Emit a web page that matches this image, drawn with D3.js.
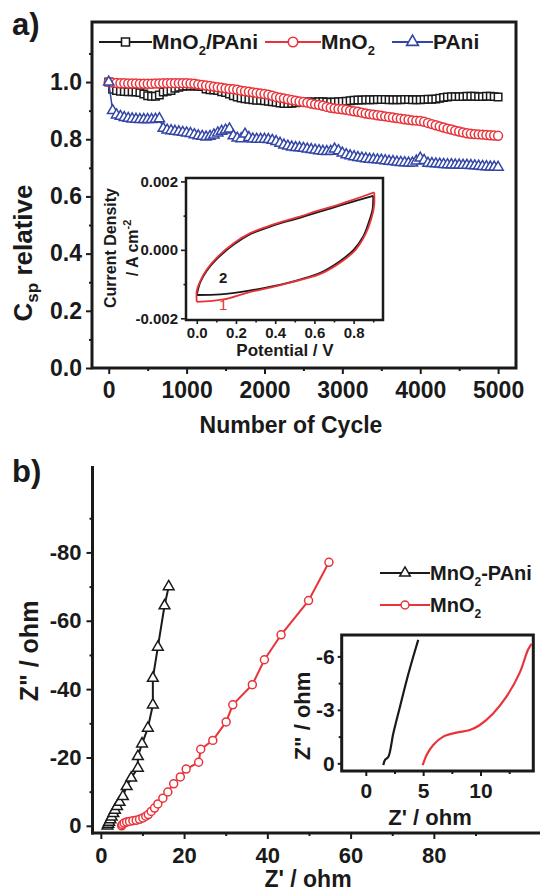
<!DOCTYPE html>
<html>
<head>
<meta charset="utf-8">
<script src="https://cdn.jsdelivr.net/npm/d3@7"></script>
<style>
  body { margin: 0; background: #fff; }
  svg { display: block; font-family: "Liberation Sans", Arial, sans-serif; font-weight: bold; }
</style>
</head>
<body>
<svg id="chart" width="547" height="893"></svg>
<script>
// ---- panel a : relative capacitance vs cycle ----
const cycles = d3.range(0, 5001, 50);
const capMnO2PAni = [
  1.000, 0.975, 0.970, 0.968, 0.967, 0.966, 0.966, 0.965, 0.963, 0.958,
  0.952, 0.950, 0.950, 0.955, 0.965, 0.968, 0.970, 0.978, 0.982, 0.985,
  0.986, 0.986, 0.986, 0.985, 0.984, 0.976, 0.973, 0.972, 0.970, 0.966,
  0.963, 0.958, 0.952, 0.948, 0.944, 0.942, 0.940, 0.938, 0.936, 0.936,
  0.935, 0.933, 0.931, 0.929, 0.927, 0.925, 0.925, 0.926, 0.928, 0.929,
  0.929, 0.930, 0.930, 0.930, 0.931, 0.931, 0.930, 0.929, 0.930, 0.931,
  0.932, 0.933, 0.935, 0.936, 0.937, 0.937, 0.938, 0.938, 0.938, 0.939,
  0.939, 0.939, 0.938, 0.938, 0.938, 0.938, 0.939, 0.939, 0.938, 0.938,
  0.938, 0.939, 0.940, 0.940, 0.941, 0.943, 0.946, 0.948, 0.949, 0.949,
  0.949, 0.949, 0.950, 0.950, 0.950, 0.949, 0.949, 0.950, 0.950, 0.949,
  0.948
];
const capMnO2 = [
  1.000, 0.998, 0.997, 0.996, 0.996, 0.995, 0.995, 0.995, 0.994, 0.994,
  0.994, 0.994, 0.995, 0.995, 0.996, 0.996, 0.996, 0.996, 0.996, 0.996,
  0.996, 0.995, 0.994, 0.992, 0.990, 0.988, 0.986, 0.984, 0.982, 0.980,
  0.978, 0.976, 0.975, 0.973, 0.970, 0.968, 0.966, 0.964, 0.962, 0.960,
  0.958, 0.956, 0.952, 0.948, 0.945, 0.943, 0.940, 0.937, 0.935, 0.932,
  0.930, 0.928, 0.925, 0.922, 0.920, 0.917, 0.913, 0.910, 0.908, 0.906,
  0.905, 0.903, 0.900, 0.898, 0.896, 0.893, 0.890, 0.888, 0.886, 0.884,
  0.882, 0.880, 0.878, 0.876, 0.874, 0.872, 0.870, 0.868, 0.866, 0.865,
  0.864, 0.861, 0.857, 0.853, 0.849, 0.845, 0.841, 0.837, 0.834, 0.830,
  0.827, 0.824, 0.821, 0.819, 0.818, 0.817, 0.816, 0.815, 0.814, 0.813,
  0.812
];
const capPAni = [
  1.000, 0.900, 0.885, 0.880, 0.876, 0.873, 0.871, 0.870, 0.869, 0.869,
  0.869, 0.869, 0.870, 0.872, 0.838, 0.832, 0.830, 0.828, 0.826, 0.824,
  0.822, 0.820, 0.816, 0.812, 0.810, 0.808, 0.810, 0.815, 0.822, 0.828,
  0.832, 0.836, 0.812, 0.804, 0.802, 0.818, 0.806, 0.801, 0.800, 0.800,
  0.800, 0.799, 0.796, 0.792, 0.786, 0.780, 0.776, 0.773, 0.771, 0.770,
  0.768, 0.766, 0.764, 0.762, 0.760, 0.758, 0.757, 0.758, 0.766, 0.760,
  0.752, 0.746, 0.742, 0.739, 0.736, 0.734, 0.732, 0.730, 0.729, 0.728,
  0.727, 0.725, 0.723, 0.722, 0.720, 0.719, 0.718, 0.717, 0.717, 0.724,
  0.734, 0.726, 0.716, 0.715, 0.714, 0.713, 0.712, 0.711, 0.711, 0.710,
  0.710, 0.709, 0.709, 0.708, 0.707, 0.706, 0.705, 0.704, 0.703, 0.703,
  0.702
];
const cycleTicks = [0, 1000, 2000, 3000, 4000, 5000];
const cycleMinor = [500, 1500, 2500, 3500, 4500];
const capTicks = [0, 0.2, 0.4, 0.6, 0.8, 1.0];
const capMinor = [0.1, 0.3, 0.5, 0.7, 0.9, 1.1];

// inset a : CV loops [V, A cm-2]
const cv2Fwd = [[0,-0.00132],[0.017,-0.00096],[0.05,-0.00062],[0.10,-0.00028],[0.19,0.00016],[0.27,0.00045],[0.36,0.00065],[0.44,0.0008],[0.53,0.00094],[0.61,0.00109],[0.70,0.00124],[0.78,0.00138],[0.9,0.00158]];
const cv2Rev = [[0.9,0.00158],[0.897,0.0012],[0.88,0.00085],[0.85,0.0004],[0.80,0.0],[0.73,-0.00033],[0.63,-0.00067],[0.53,-0.00086],[0.39,-0.00106],[0.26,-0.0012],[0.12,-0.0013],[0,-0.00132]];
const cv1Fwd = [[0,-0.00152],[0,-0.0012],[0.017,-0.00092],[0.05,-0.00058],[0.10,-0.00024],[0.19,0.0002],[0.27,0.00048],[0.36,0.00068],[0.44,0.00083],[0.53,0.00098],[0.61,0.00113],[0.70,0.00128],[0.78,0.00143],[0.905,0.00168]];
const cv1Rev = [[0.905,0.00168],[0.905,0.0013],[0.89,0.0009],[0.86,0.00045],[0.81,0.0],[0.74,-0.00034],[0.64,-0.00068],[0.53,-0.00088],[0.39,-0.00108],[0.26,-0.00125],[0.135,-0.00145],[0,-0.00152]];
const potTicks = [0, 0.2, 0.4, 0.6, 0.8];
const potMinor = [0.1, 0.3, 0.5, 0.7, 0.9];
const curTicks = [-0.002, 0, 0.002];
const curMinor = [-0.001, 0.001];

// ---- panel b : Nyquist plots [Z', Z''] ----
const eisMnO2PAni = [[1.6,0.0],[1.8,-0.5],[2.0,-1.1],[2.3,-1.8],[2.6,-2.6],[3.0,-3.6],[3.4,-4.6],[3.9,-5.7],[4.5,-6.9],[5.3,-8.6],[6.2,-11.5],[7.3,-14.0],[8.9,-16.9],[8.9,-20.3],[9.9,-24.0],[11.3,-28.6],[12.5,-35.4],[12.5,-43.2],[13.7,-52.3],[15.3,-64.4],[16.3,-70.0]];
const eisMnO2 = [[5.0,0.0],[5.2,-0.4],[5.6,-0.8],[6.2,-1.1],[6.9,-1.3],[7.7,-1.5],[8.5,-1.6],[9.3,-1.9],[10.1,-2.3],[10.8,-2.8],[11.4,-3.3],[12.1,-4.2],[12.9,-5.2],[13.7,-6.4],[14.9,-8.1],[16.1,-9.9],[17.5,-12.3],[19.1,-14.3],[20.5,-16.6],[23.5,-18.6],[24.0,-22.4],[26.9,-25.0],[30.1,-30.4],[31.7,-35.4],[36.4,-41.3],[39.3,-48.6],[43.3,-55.9],[49.9,-65.9],[54.8,-77.1]];
const zreTicks = [0, 20, 40, 60, 80];
const zreMinor = [10, 30, 50, 70, 90];
const zimTicks = [0, -20, -40, -60, -80];
const zimMinor = [-10, -30, -50, -70, -90];

// inset b
const insetMnO2PAni = [[1.53,0.1],[1.68,-0.19],[1.97,-0.37],[2.4,-1.69],[2.98,-3.18],[3.57,-4.68],[4.14,-5.99],[4.57,-6.93]];
const insetMnO2 = [[4.96,0.1],[5.3,-0.47],[5.88,-1.03],[6.75,-1.5],[7.9,-1.72],[9.07,-1.87],[9.94,-2.15],[11.1,-2.8],[12.26,-3.74],[13.4,-5.06],[14.14,-6.37],[14.45,-6.7]];
const insetZreTicks = [0, 5, 10];
const insetZreMinor = [2.5, 7.5, 12.5];
const insetZimTicks = [0, -3, -6];
const insetZimMinor = [-1.5, -4.5];

const INK = "#1a1a1a", RED = "#e8333a", BLUE = "#3346a6";
const svg = d3.select("#chart");

function fmtAxis(g, fs, sw) {
  g.attr("font-family", null).attr("font-size", null);
  g.select(".domain").remove();
  g.selectAll(".tick line").attr("stroke", INK).attr("stroke-width", sw || 2);
  g.selectAll(".tick text").attr("fill", INK)
    .style("font-size", fs + "px").style("font-weight", "bold");
}

function frame(x, y, fill, sw) {
  svg.append("rect")
    .attr("x", x.range()[0]).attr("y", y.range()[1])
    .attr("width", x.range()[1] - x.range()[0])
    .attr("height", y.range()[0] - y.range()[1])
    .attr("fill", fill).attr("stroke", INK).attr("stroke-width", sw);
}

function markers(g, pts, type, size, color, sw) {
  g.selectAll(null).data(pts).enter().append("path")
    .attr("d", d3.symbol().type(type).size(size))
    .attr("transform", d => `translate(${d[0]},${d[1]})`)
    .attr("fill", "#fff").attr("stroke", color).attr("stroke-width", sw || 1.3);
}

// ================= panel a =================
const xA = d3.scaleLinear().domain([-215, 5230]).range([92, 516]);
const yA = d3.scaleLinear().domain([0, 1.21]).range([368, 22]);

svg.append("g").attr("transform", "translate(0,368)")
  .call(d3.axisBottom(xA).tickValues(cycleTicks).tickSize(6).tickPadding(8).tickFormat(d => String(d)))
  .call(g => fmtAxis(g, 23));
svg.append("g").attr("transform", "translate(0,368)")
  .call(d3.axisBottom(xA).tickValues(cycleMinor).tickSize(3).tickFormat(""))
  .call(g => fmtAxis(g, 23));
svg.append("g").attr("transform", "translate(92,0)")
  .call(d3.axisLeft(yA).tickValues(capTicks).tickSize(6).tickPadding(4).tickFormat(d => d.toFixed(1)))
  .call(g => fmtAxis(g, 23));
svg.append("g").attr("transform", "translate(92,0)")
  .call(d3.axisLeft(yA).tickValues(capMinor).tickSize(3).tickFormat(""))
  .call(g => fmtAxis(g, 23));
frame(xA, yA, "none", 3);

const seriesA = [
  { vals: capMnO2PAni, color: INK, sym: d3.symbolSquare, size: 56 },
  { vals: capMnO2, color: RED, sym: d3.symbolCircle, size: 62 },
  { vals: capPAni, color: BLUE, sym: d3.symbolTriangle, size: 46 }
];
seriesA.forEach(s => {
  const pts = cycles.map((c, i) => [xA(c), yA(s.vals[i])]);
  svg.append("path").attr("d", d3.line()(pts))
    .attr("fill", "none").attr("stroke", s.color).attr("stroke-width", 1.5);
  markers(svg.append("g"), pts, s.sym, s.size, s.color, 1.5);
});

// legend a
const legA = [
  { x0: 99, x1: 152, name: ["MnO", "2", "/PAni"], color: INK, sym: d3.symbolSquare, size: 64 },
  { x0: 265, x1: 321, name: ["MnO", "2", ""], color: RED, sym: d3.symbolCircle, size: 70 },
  { x0: 392, x1: 433, name: ["", "", "PAni"], color: BLUE, sym: d3.symbolTriangle, size: 60 }
];
legA.forEach(l => {
  const g = svg.append("g");
  g.append("line").attr("x1", l.x0).attr("x2", l.x1).attr("y1", 42).attr("y2", 42)
    .attr("stroke", l.color).attr("stroke-width", 2);
  markers(g, [[(l.x0 + l.x1) / 2, 42]], l.sym, l.size, l.color, 1.6);
  const t = g.append("text").attr("x", l.x1).attr("y", 49).attr("fill", INK).style("font-size", "21px");
  t.append("tspan").text(l.name[0]);
  if (l.name[1]) t.append("tspan").attr("dy", 6).style("font-size", "13px").text(l.name[1]);
  t.append("tspan").attr("dy", l.name[1] ? -6 : 0).text(l.name[2]);
});

svg.append("text").attr("x", 12).attr("y", 35).style("font-size", "31px").attr("fill", INK).text("a)");

const yTitleA = svg.append("text").attr("transform", "translate(32,253) rotate(-90)")
  .attr("text-anchor", "middle").attr("fill", INK).style("font-size", "26px");
yTitleA.append("tspan").text("C");
yTitleA.append("tspan").attr("dy", 6).style("font-size", "17px").text("sp");
yTitleA.append("tspan").attr("dy", -6).text(" relative");

svg.append("text").attr("x", 291).attr("y", 433).attr("text-anchor", "middle")
  .attr("fill", INK).style("font-size", "23px").text("Number of Cycle");

// inset a
const xI = d3.scaleLinear().domain([-0.055, 0.95]).range([186, 383]);
const yI = d3.scaleLinear().domain([-0.00205, 0.0021]).range([320, 178]);
frame(xI, yI, "#fff", 2.5);
svg.append("g").attr("transform", "translate(0,320)")
  .call(d3.axisBottom(xI).tickValues(potTicks).tickSize(4).tickPadding(3).tickFormat(d => d.toFixed(1)))
  .call(g => fmtAxis(g, 15, 1.6));
svg.append("g").attr("transform", "translate(0,320)")
  .call(d3.axisBottom(xI).tickValues(potMinor).tickSize(2.5).tickFormat(""))
  .call(g => fmtAxis(g, 15, 1.6));
svg.append("g").attr("transform", "translate(186,0)")
  .call(d3.axisLeft(yI).tickValues(curTicks).tickSize(5).tickPadding(3).tickFormat(d => d.toFixed(3)))
  .call(g => fmtAxis(g, 15, 1.6));
svg.append("g").attr("transform", "translate(186,0)")
  .call(d3.axisLeft(yI).tickValues(curMinor).tickSize(2.5).tickFormat(""))
  .call(g => fmtAxis(g, 15, 1.6));

const cvLine = d3.line().x(d => xI(d[0])).y(d => yI(d[1])).curve(d3.curveCatmullRom);
[[cv2Fwd, INK], [cv2Rev, INK], [cv1Fwd, RED], [cv1Rev, RED]].forEach(([d, c]) => {
  svg.append("path").attr("d", cvLine(d)).attr("fill", "none").attr("stroke", c).attr("stroke-width", 1.8);
});
svg.append("text").attr("x", xI(0.135)).attr("y", yI(-0.00081)).attr("text-anchor", "middle")
  .attr("dy", "0.35em").attr("fill", INK).style("font-size", "15px").text("2");
svg.append("text").attr("x", xI(0.135)).attr("y", yI(-0.0016)).attr("text-anchor", "middle")
  .attr("dy", "0.35em").attr("fill", RED).style("font-size", "15px").style("font-weight", "normal").text("1");

svg.append("text").attr("transform", "translate(116,248) rotate(-90)").attr("text-anchor", "middle")
  .attr("fill", INK).style("font-size", "16px").text("Current Density");
const yTitleI = svg.append("text").attr("transform", "translate(138,248) rotate(-90)").attr("text-anchor", "middle")
  .attr("fill", INK).style("font-size", "16px");
yTitleI.append("tspan").text("/ A cm");
yTitleI.append("tspan").attr("dy", -7).style("font-size", "11px").text("-2");
svg.append("text").attr("x", 285).attr("y", 356).attr("text-anchor", "middle")
  .attr("fill", INK).style("font-size", "17px").text("Potential / V");

// ================= panel b =================
const xB = d3.scaleLinear().domain([-2, 105.5]).range([92.5, 540]);
const yB = d3.scaleLinear().domain([2.1, -104.7]).range([833, 468]);

svg.append("g").attr("transform", "translate(0,833)")
  .call(d3.axisBottom(xB).tickValues(zreTicks).tickSize(6).tickPadding(8).tickFormat(d => String(d)))
  .call(g => fmtAxis(g, 22));
svg.append("g").attr("transform", "translate(0,833)")
  .call(d3.axisBottom(xB).tickValues(zreMinor).tickSize(3).tickFormat(""))
  .call(g => fmtAxis(g, 22));
svg.append("g").attr("transform", "translate(92.5,0)")
  .call(d3.axisLeft(yB).tickValues(zimTicks).tickSize(6).tickPadding(5).tickFormat(d => String(d)))
  .call(g => fmtAxis(g, 22));
svg.append("g").attr("transform", "translate(92.5,0)")
  .call(d3.axisLeft(yB).tickValues(zimMinor).tickSize(3).tickFormat(""))
  .call(g => fmtAxis(g, 22));
svg.append("line").attr("x1", 92.5).attr("x2", 92.5).attr("y1", 466).attr("y2", 834.5)
  .attr("stroke", INK).attr("stroke-width", 3);
svg.append("line").attr("x1", 91).attr("x2", 540).attr("y1", 833).attr("y2", 833)
  .attr("stroke", INK).attr("stroke-width", 3);

const eisLine = d3.line().x(d => xB(d[0])).y(d => yB(d[1]));
svg.append("path").attr("d", eisLine(eisMnO2PAni)).attr("fill", "none").attr("stroke", INK).attr("stroke-width", 2);
markers(svg.append("g"), eisMnO2PAni.map(d => [xB(d[0]), yB(d[1])]), d3.symbolTriangle, 50, INK, 1.5);
svg.append("path").attr("d", eisLine(eisMnO2)).attr("fill", "none").attr("stroke", RED).attr("stroke-width", 2);
markers(svg.append("g"), eisMnO2.map(d => [xB(d[0]), yB(d[1])]), d3.symbolCircle, 50, RED, 1.5);

// legend b
const legB = [
  { y: 573, name: ["MnO", "2", "-PAni"], color: INK, sym: d3.symbolTriangle, size: 48 },
  { y: 605, name: ["MnO", "2", ""], color: RED, sym: d3.symbolCircle, size: 50 }
];
legB.forEach(l => {
  const g = svg.append("g");
  g.append("line").attr("x1", 380).attr("x2", 430).attr("y1", l.y).attr("y2", l.y)
    .attr("stroke", l.color).attr("stroke-width", 2);
  markers(g, [[405, l.y]], l.sym, l.size, l.color, 1.5);
  const t = g.append("text").attr("x", 430).attr("y", l.y + 7).attr("fill", INK).style("font-size", "20px");
  t.append("tspan").text(l.name[0]);
  t.append("tspan").attr("dy", 6).style("font-size", "12px").text(l.name[1]);
  t.append("tspan").attr("dy", -6).text(l.name[2]);
});

svg.append("text").attr("x", 12).attr("y", 482).style("font-size", "31px").attr("fill", INK).text("b)");
svg.append("text").attr("transform", "translate(38,651) rotate(-90)").attr("text-anchor", "middle")
  .attr("fill", INK).style("font-size", "25px").text("Z\" / ohm");
svg.append("text").attr("x", 308).attr("y", 887).attr("text-anchor", "middle")
  .attr("fill", INK).style("font-size", "23px").text("Z' / ohm");

// inset b
const xIB = d3.scaleLinear().domain([-2.1, 14.6]).range([341.7, 533.3]);
const yIB = d3.scaleLinear().domain([0.43, -7.2]).range([771, 635]);
frame(xIB, yIB, "#fff", 3);
svg.append("defs").append("clipPath").attr("id", "clipIB").append("rect")
  .attr("x", 341.7).attr("y", 635).attr("width", 191.6).attr("height", 136);
svg.append("g").attr("transform", "translate(0,771)")
  .call(d3.axisBottom(xIB).tickValues(insetZreTicks).tickSize(5).tickPadding(7).tickFormat(d => String(d)))
  .call(g => fmtAxis(g, 21));
svg.append("g").attr("transform", "translate(0,771)")
  .call(d3.axisBottom(xIB).tickValues(insetZreMinor).tickSize(3).tickFormat(""))
  .call(g => fmtAxis(g, 21));
svg.append("g").attr("transform", "translate(341.7,0)")
  .call(d3.axisLeft(yIB).tickValues(insetZimTicks).tickSize(4).tickPadding(3).tickFormat(d => String(d)))
  .call(g => fmtAxis(g, 21));
svg.append("g").attr("transform", "translate(341.7,0)")
  .call(d3.axisLeft(yIB).tickValues(insetZimMinor).tickSize(3).tickFormat(""))
  .call(g => fmtAxis(g, 21));
const ibLine = d3.line().x(d => xIB(d[0])).y(d => yIB(d[1])).curve(d3.curveCatmullRom);
svg.append("path").attr("d", ibLine(insetMnO2PAni)).attr("clip-path", "url(#clipIB)")
  .attr("fill", "none").attr("stroke", INK).attr("stroke-width", 2.2);
svg.append("path").attr("d", ibLine(insetMnO2)).attr("clip-path", "url(#clipIB)")
  .attr("fill", "none").attr("stroke", RED).attr("stroke-width", 2.2);
svg.append("text").attr("transform", "translate(310,716) rotate(-90)").attr("text-anchor", "middle")
  .attr("fill", INK).style("font-size", "22px").text("Z\" / ohm");
svg.append("text").attr("x", 430).attr("y", 825).attr("text-anchor", "middle")
  .attr("fill", INK).style("font-size", "22px").text("Z' / ohm");
</script>
</body>
</html>
